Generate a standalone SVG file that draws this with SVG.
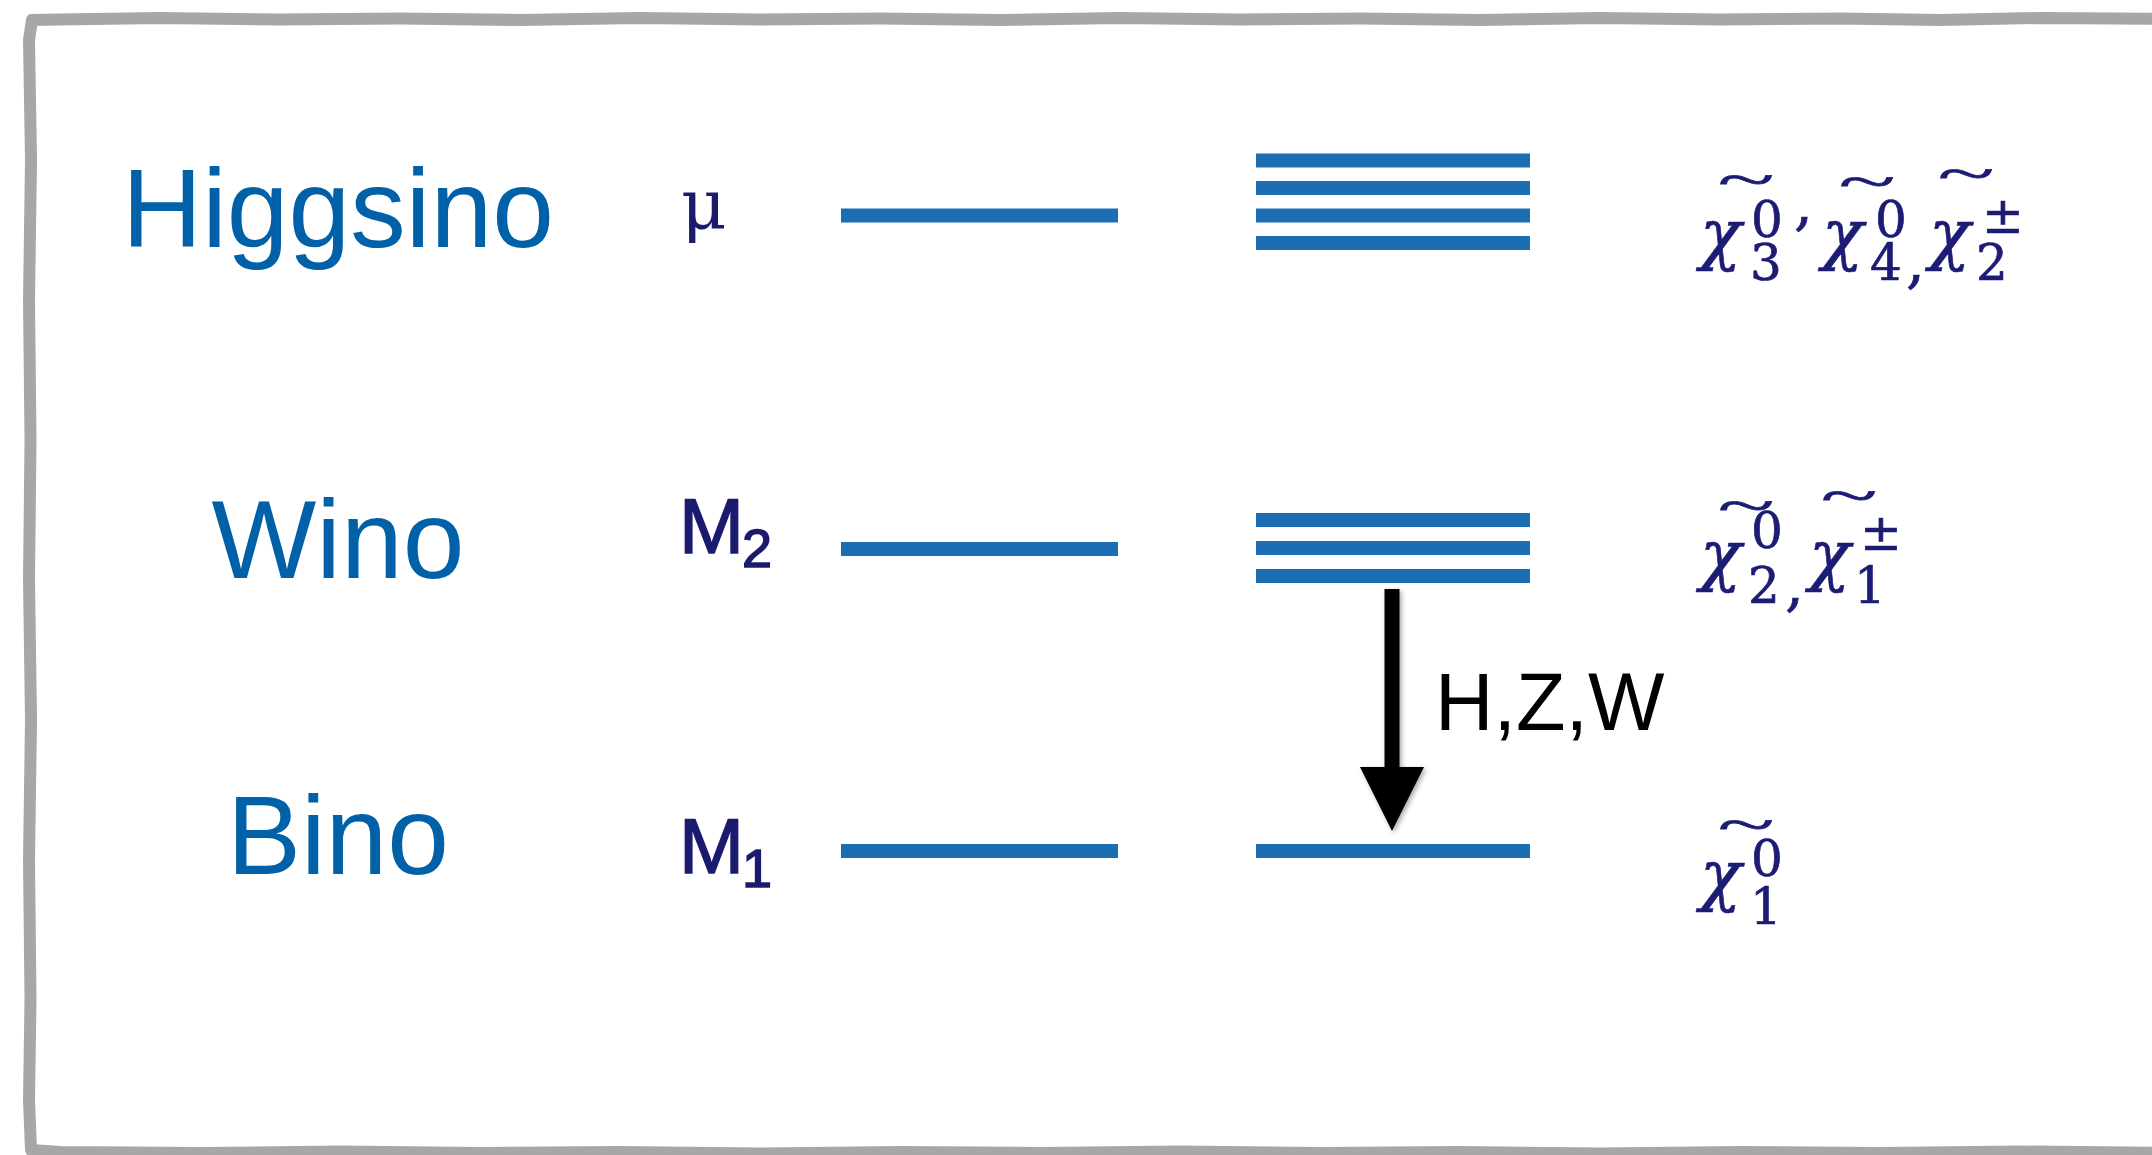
<svg xmlns="http://www.w3.org/2000/svg" width="2152" height="1155" viewBox="0 0 2152 1155">
  <defs>
    <style>
      .frame { fill: none; stroke: #a5a8a7; stroke-width: 12; stroke-linejoin: round; stroke-linecap: round; }
      .name { font-family: "Liberation Sans", Arial, sans-serif; font-size: 111px; fill: #0061a9; text-anchor: middle; }
      .param { font-family: "Liberation Sans", Arial, sans-serif; fill: #1b1b6e; stroke: #1b1b6e; stroke-width: 1.5; }
      .mu { font-family: "DejaVu Serif", "Liberation Serif", serif; font-size: 70px; fill: #1b1b6e; }
      .level { stroke: #1b6eb4; stroke-width: 14; }
      .sym { font-family: "DejaVu Serif", "Liberation Serif", serif; fill: #1c1c74; stroke: #1c1c74; stroke-width: 0.7; }
      .chi { font-style: italic; font-size: 68px; }
      .idx { font-style: normal; font-size: 50px; }
      .cm { font-style: normal; font-size: 60px; }
      .tl { font-family: "Liberation Serif", "DejaVu Serif", serif; font-size: 50px; fill: #1c1c74; stroke: #1c1c74; stroke-width: 0.8; }
      .hzw { font-family: "Liberation Sans", Arial, sans-serif; font-size: 81px; fill: #000000; }
      .conn { stroke: #000000; stroke-width: 15; fill: none; }
    </style>
    <marker id="head" viewBox="0 0 64 64" markerUnits="userSpaceOnUse" markerWidth="64" markerHeight="64" refX="2" refY="32" orient="auto">
      <path d="M0,0 L64,32 L0,64 z" fill="#000000"/>
    </marker>
    <filter id="shadow" filterUnits="userSpaceOnUse" x="1330" y="570" width="130" height="290">
      <feDropShadow dx="2" dy="2" stdDeviation="2.5" flood-color="#000000" flood-opacity="0.35"/>
    </filter>
  </defs>

  <rect x="0" y="0" width="2152" height="1155" fill="#ffffff"/>

  <g id="frame">
    <path class="frame" d="M2170,19 L2040,18 L1940,20 L1840,18.5 L1720,19.5 L1600,18 L1480,20 L1360,18.5 L1240,19.5 L1120,18 L1000,20 L880,18.5 L760,19.5 L640,18 L520,20 L400,18.5 L280,19.5 L160,18 L60,19.5 L32,20 L29,40 L31,160 L29,300 L30.5,440 L29,580 L31,720 L29,860 L30.5,1000 L29,1100 L31,1150 L60,1152 L200,1153 L340,1151.5 L480,1153 L620,1152 L760,1153.5 L900,1152 L1040,1153 L1180,1151.5 L1320,1153 L1460,1152 L1600,1153.5 L1740,1152 L1880,1153 L2020,1151.5 L2170,1153"/>
  </g>

  <!-- Higgsino row -->
  <g id="higgsino-name"><text class="name" x="338" y="247">Higgsino</text></g>
  <g id="higgsino-param"><text class="mu" x="681" y="229">μ</text></g>
  <g id="higgsino-level"><line class="level" x1="841" y1="215.5" x2="1118" y2="215.5"/></g>
  <g id="higgsino-states">
    <line class="level" x1="1256" y1="160.5" x2="1530" y2="160.5"/>
    <line class="level" x1="1256" y1="188" x2="1530" y2="188"/>
    <line class="level" x1="1256" y1="215.5" x2="1530" y2="215.5"/>
    <line class="level" x1="1256" y1="243" x2="1530" y2="243"/>
  </g>
  <g id="higgsino-chi">
    <text class="sym"><tspan class="chi" x="1700" y="257">χ</tspan><tspan class="idx" x="1751" y="237">0</tspan><tspan class="idx" x="1750" y="280">3</tspan><tspan class="cm" x="1794" y="224">,</tspan><tspan class="chi" x="1822" y="257">χ</tspan><tspan class="idx" x="1875" y="237">0</tspan><tspan class="idx" x="1870" y="280">4</tspan><tspan class="cm" x="1906" y="282">,</tspan><tspan class="chi" x="1929" y="257">χ</tspan><tspan class="idx" x="1982" y="233">±</tspan><tspan class="idx" x="1976" y="280">2</tspan></text>
    <text class="tl" transform="translate(1718,196) scale(2.08,1)">~</text>
    <text class="tl" transform="translate(1839,198) scale(2.08,1)">~</text>
    <text class="tl" transform="translate(1938,190) scale(2.08,1)">~</text>
  </g>

  <!-- Wino row -->
  <g id="wino-name"><text class="name" x="338" y="578">Wino</text></g>
  <g id="wino-param">
    <text class="param" x="679" y="553" font-size="78">M<tspan x="742" y="567" font-size="54">2</tspan></text>
  </g>
  <g id="wino-level"><line class="level" x1="841" y1="549" x2="1118" y2="549"/></g>
  <g id="wino-states">
    <line class="level" x1="1256" y1="520" x2="1530" y2="520"/>
    <line class="level" x1="1256" y1="548" x2="1530" y2="548"/>
    <line class="level" x1="1256" y1="576" x2="1530" y2="576"/>
  </g>
  <g id="wino-chi">
    <text class="sym"><tspan class="chi" x="1700" y="578">χ</tspan><tspan class="idx" x="1751" y="548">0</tspan><tspan class="idx" x="1748" y="603">2</tspan><tspan class="cm" x="1785" y="605">,</tspan><tspan class="chi" x="1809" y="578">χ</tspan><tspan class="idx" x="1860" y="550">±</tspan><tspan class="idx" x="1854" y="603">1</tspan></text>
    <text class="tl" transform="translate(1718,522) scale(2.08,1)">~</text>
    <text class="tl" transform="translate(1821,512) scale(2.08,1)">~</text>
  </g>

  <!-- Bino row -->
  <g id="bino-name"><text class="name" x="338" y="874">Bino</text></g>
  <g id="bino-param">
    <text class="param" x="679" y="873" font-size="78">M<tspan x="742" y="887" font-size="54">1</tspan></text>
  </g>
  <g id="bino-level"><line class="level" x1="841" y1="851" x2="1118" y2="851"/></g>
  <g id="bino-states"><line class="level" x1="1256" y1="851" x2="1530" y2="851"/></g>
  <g id="bino-chi">
    <text class="sym"><tspan class="chi" x="1700" y="898">χ</tspan><tspan class="idx" x="1751" y="876">0</tspan><tspan class="idx" x="1750" y="924">1</tspan></text>
    <text class="tl" transform="translate(1718,841) scale(2.08,1)">~</text>
  </g>

  <!-- Connectors -->
  <g id="connectors">
    <g filter="url(#shadow)">
      <line class="conn" x1="1392" y1="589" x2="1392" y2="769" marker-end="url(#head)"/>
    </g>
    <text class="hzw" x="1435" y="730">H,Z,W</text>
  </g>
</svg>
